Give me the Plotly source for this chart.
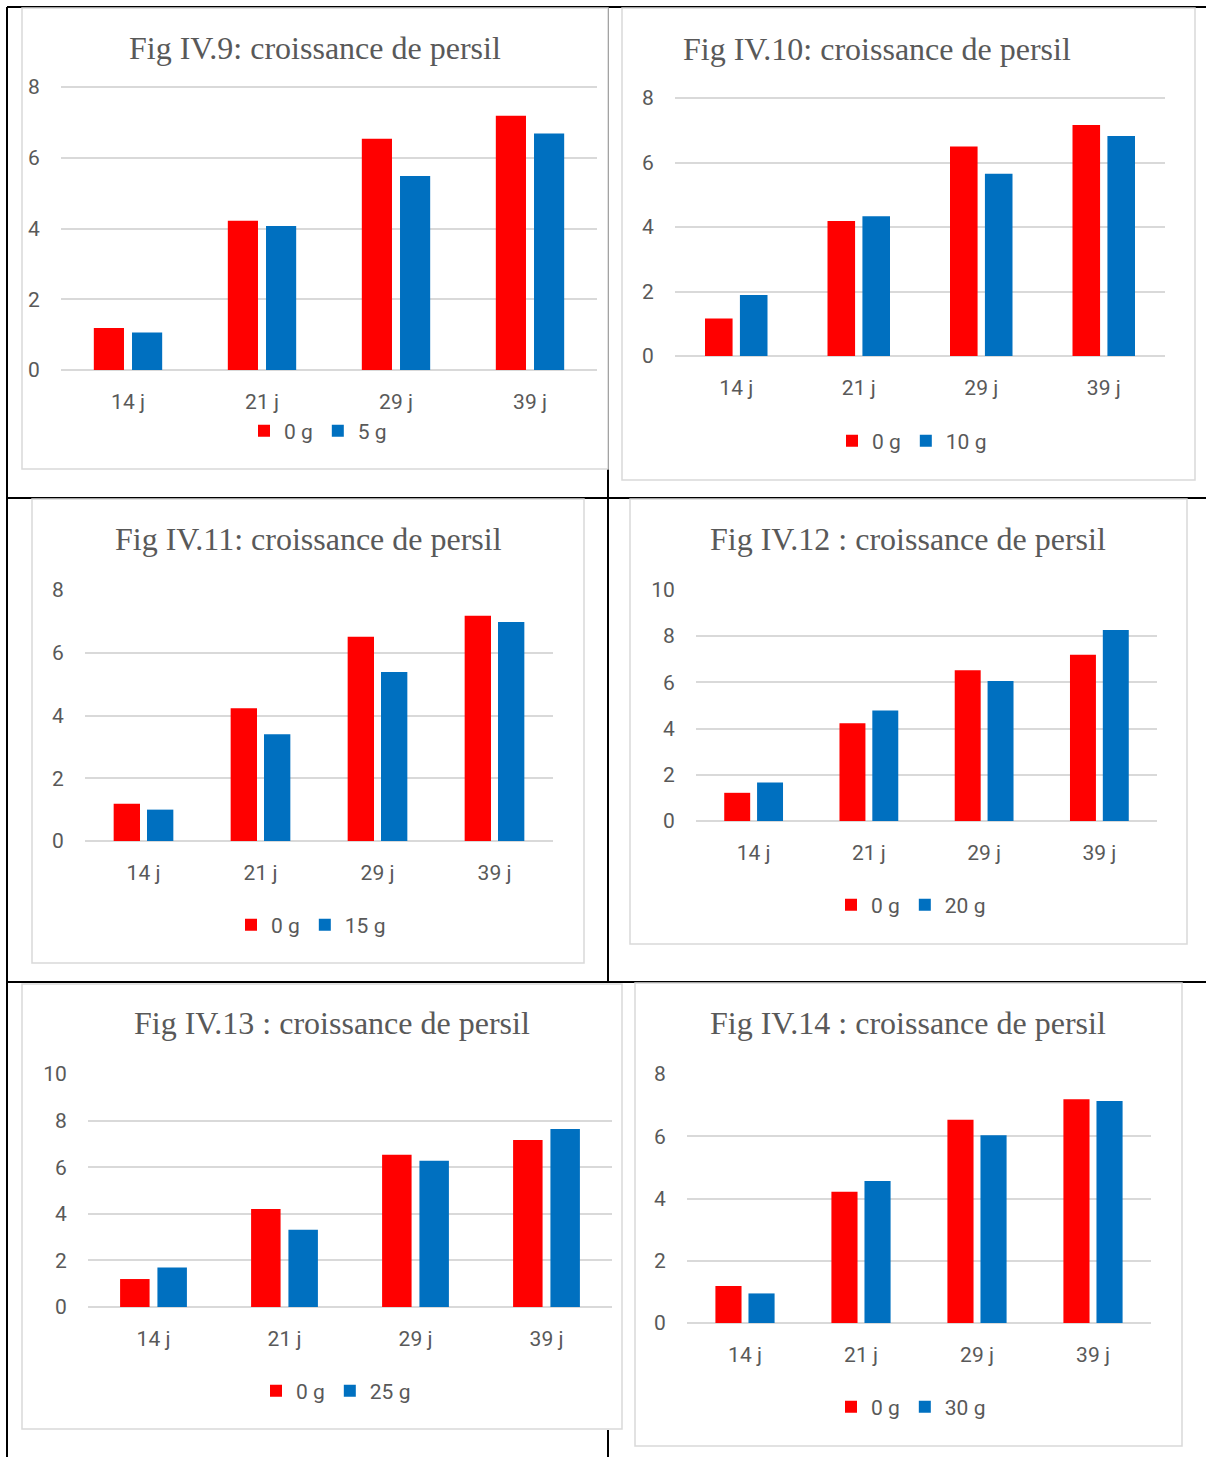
import plotly.graph_objects as go

# ---------------- data ----------------
categories = ["14 j", "21 j", "29 j", "39 j"]

titles = [
    "Fig IV.9: croissance de persil",
    "Fig IV.10: croissance de persil",
    "Fig IV.11: croissance de persil",
    "Fig IV.12 : croissance de persil",
    "Fig IV.13 : croissance de persil",
    "Fig IV.14 : croissance de persil",
]

control_label = "0 g"
dose_labels = ["5 g", "10 g", "15 g", "20 g", "25 g", "30 g"]

control_fig9 = [1.19, 4.22, 6.54, 7.19]
control_fig10 = [1.16, 4.19, 6.50, 7.16]
control_fig11 = [1.19, 4.23, 6.51, 7.18]
control_fig12 = [1.22, 4.23, 6.52, 7.19]
control_fig13 = [1.20, 4.21, 6.53, 7.17]
control_fig14 = [1.19, 4.22, 6.53, 7.19]

dose_5g = [1.06, 4.07, 5.49, 6.69]
dose_10g = [1.89, 4.33, 5.65, 6.82]
dose_15g = [1.00, 3.40, 5.39, 6.98]
dose_20g = [1.67, 4.78, 6.06, 8.27]
dose_25g = [1.69, 3.31, 6.27, 7.64]
dose_30g = [0.95, 4.56, 6.03, 7.13]

y_max = [8, 8, 8, 10, 10, 8]

controls = [control_fig9, control_fig10, control_fig11, control_fig12, control_fig13, control_fig14]
doses = [dose_5g, dose_10g, dose_15g, dose_20g, dose_25g, dose_30g]

# ---------------- layout (pixels) ----------------
W, H = 1206, 1457
# plot area: x0, x1, y_top, y_bottom
plot_px = [
    (61, 597, 86, 370),
    (675, 1165, 97, 356),
    (85, 553, 589, 841),
    (696, 1157, 589, 821),
    (88, 612, 1073, 1307),
    (687, 1151, 1073, 1323),
]
title_px = [(315, 48), (877, 49), (308, 539), (908, 539), (332, 1023), (908, 1023)]
legend_px = [(318, 431), (912, 441), (311, 925), (911, 905), (336, 1391), (911, 1407)]
box_px = [
    (22, 8, 608, 469),
    (622, 8, 1195, 480),
    (32, 499, 584, 963),
    (630, 499, 1187, 944),
    (22, 984, 622, 1429),
    (635, 983, 1182, 1446),
]

RED = "#FF0000"
BLUE = "#0070C0"
GRID = "#D9D9D9"
TXT = "#595959"
TICKFONT = dict(family="Roboto, 'Open Sans', sans-serif", size=21, color=TXT)
TITLEFONT = dict(family="'Liberation Serif', 'DejaVu Serif', serif", size=32, color=TXT)
EPS = 0.004  # tiny headroom so the top gridline is drawn


def px_x(x):
    return x / W


def px_y(y):
    return 1 - y / H


fig = go.Figure()
layout = dict(
    width=W,
    height=H,
    margin=dict(l=0, r=0, t=0, b=0, pad=0, autoexpand=False),
    paper_bgcolor="white",
    plot_bgcolor="rgba(0,0,0,0)",
    bargap=0.43,
    bargroupgap=0.21,
    barmode="group",
    showlegend=True,
    annotations=[],
    shapes=[],
)

for i in range(6):
    n = i + 1
    xa = "x" if n == 1 else f"x{n}"
    ya = "y" if n == 1 else f"y{n}"
    lg = "legend" if n == 1 else f"legend{n}"
    fig.add_trace(go.Bar(x=categories, y=controls[i], name=control_label,
                         marker=dict(color=RED, line=dict(width=0)),
                         xaxis=xa, yaxis=ya, legend=lg))
    fig.add_trace(go.Bar(x=categories, y=doses[i], name=dose_labels[i],
                         marker=dict(color=BLUE, line=dict(width=0)),
                         xaxis=xa, yaxis=ya, legend=lg))
    x0, x1, yt, yb = plot_px[i]
    layout[f"xaxis{n}"] = dict(
        domain=[px_x(x0), px_x(x1)], anchor=ya, showgrid=False, zeroline=False,
        showline=False, ticks="outside", ticklen=13, tickcolor="rgba(0,0,0,0)",
        tickfont=TICKFONT, fixedrange=True, automargin=False,
    )
    layout[f"yaxis{n}"] = dict(
        domain=[px_y(yb), px_y(yt)], anchor=xa, range=[0, y_max[i] * (1 + EPS)],
        tick0=0, dtick=2,
        showgrid=True, gridcolor=GRID, gridwidth=1.5, zeroline=True,
        zerolinecolor=GRID, zerolinewidth=1.5, showline=False,
        ticks="outside", ticklen=16, tickcolor="rgba(0,0,0,0)",
        tickfont=TICKFONT, fixedrange=True, automargin=False,
    )
    lx, ly = legend_px[i]
    layout[lg] = dict(
        orientation="h", x=px_x(lx), y=px_y(ly), xanchor="center", yanchor="middle",
        font=TICKFONT, bgcolor="rgba(0,0,0,0)", traceorder="normal",
        itemwidth=30, tracegroupgap=0,
    )
    tx, ty = title_px[i]
    layout["annotations"].append(dict(
        text=titles[i], x=px_x(tx), y=px_y(ty), xref="paper", yref="paper",
        xanchor="center", yanchor="middle", showarrow=False, font=TITLEFONT,
    ))

# table grid lines (black)
table_lines = [
    (7, 7, 1206, 7),
    (7, 7, 7, 1457),
    (7, 498, 1206, 498),
    (7, 982, 1206, 982),
    (608, 7, 608, 982),
    (608, 1430, 608, 1457),
]
for (ax0, ay0, ax1, ay1) in table_lines:
    layout["shapes"].append(dict(
        type="line", xref="paper", yref="paper",
        x0=px_x(ax0), y0=px_y(ay0), x1=px_x(ax1), y1=px_y(ay1),
        line=dict(color="black", width=2), layer="below",
    ))
# chart area boxes
for (bx0, by0, bx1, by1) in box_px:
    layout["shapes"].append(dict(
        type="rect", xref="paper", yref="paper",
        x0=px_x(bx0), y0=px_y(by1), x1=px_x(bx1), y1=px_y(by0),
        line=dict(color=GRID, width=1.5), fillcolor="white", layer="below",
    ))

fig.update_layout(**layout)
fig.write_html(
    "out.html",
    config={"displayModeBar": False},
    post_script=(
        "var d=document.getElementById('{plot_id}');"
        "d.style.position='fixed';d.style.left='0px';d.style.top='0px';"
        "document.body.style.margin='0';document.body.style.padding='0';"
        "document.documentElement.style.overflow='hidden';"
        "document.body.style.overflow='hidden';"
    ),
)
